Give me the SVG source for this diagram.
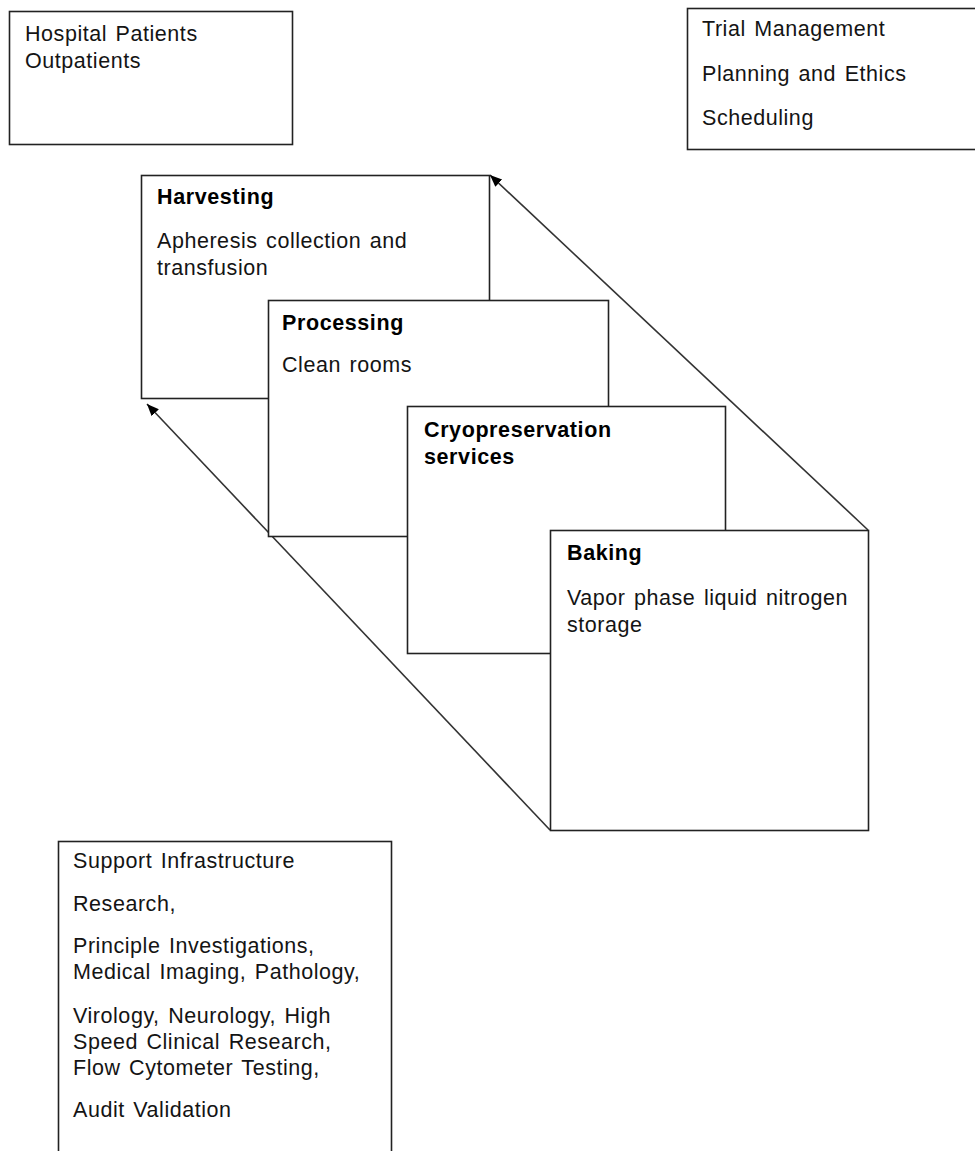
<svg xmlns="http://www.w3.org/2000/svg" width="975" height="1151" viewBox="0 0 975 1151">
<style>
.box{fill:#fff;stroke:#222;stroke-width:1.6}
.t{font-family:"Liberation Sans",Arial,sans-serif;font-size:21.5px;fill:#141414;letter-spacing:0.55px;word-spacing:2px}
.b{font-family:"Liberation Sans",Arial,sans-serif;font-size:21.5px;font-weight:bold;fill:#000;letter-spacing:0.6px}
.conn{stroke:#333;stroke-width:1.6;fill:none;marker-end:url(#ah)}
</style>
<defs>
<marker id="ah" markerUnits="userSpaceOnUse" markerWidth="14" markerHeight="12" refX="12" refY="5" orient="auto">
<path d="M0,0 L12,5 L0,10 Z" fill="#000"/>
</marker>
</defs>
<rect width="975" height="1151" fill="#fff"/>
<g id="connectors">
<line class="conn" x1="868" y1="530" x2="490" y2="175"/>
<line class="conn" x1="550" y1="830" x2="147" y2="404"/>
</g>
<g id="hospital">
<rect class="box" x="9.5" y="11.5" width="283" height="133"/>
<text class="t" x="25" y="41">Hospital Patients</text>
<text class="t" x="25" y="68">Outpatients</text>
</g>
<g id="trial">
<rect class="box" x="687.5" y="8.5" width="300" height="141"/>
<text class="t" x="702" y="36">Trial Management</text>
<text class="t" x="702" y="81">Planning and Ethics</text>
<text class="t" x="702" y="125">Scheduling</text>
</g>
<g id="harvesting">
<rect class="box" x="141.5" y="175.5" width="348" height="223"/>
<text class="b" x="157" y="204">Harvesting</text>
<text class="t" x="157" y="248">Apheresis collection and</text>
<text class="t" x="157" y="275">transfusion</text>
</g>
<g id="processing">
<rect class="box" x="268.5" y="300.5" width="340" height="236"/>
<text class="b" x="282" y="330">Processing</text>
<text class="t" x="282" y="372">Clean rooms</text>
</g>
<g id="cryo">
<rect class="box" x="407.5" y="406.5" width="318" height="247"/>
<text class="b" x="424" y="437">Cryopreservation</text>
<text class="b" x="424" y="464">services</text>
</g>
<g id="baking">
<rect class="box" x="550.5" y="530.5" width="318" height="300"/>
<text class="b" x="567" y="560">Baking</text>
<text class="t" x="567" y="605">Vapor phase liquid nitrogen</text>
<text class="t" x="567" y="632">storage</text>
</g>
<g id="support">
<rect class="box" x="58.5" y="841.5" width="333" height="330"/>
<text class="t" x="73" y="868">Support Infrastructure</text>
<text class="t" x="73" y="911">Research,</text>
<text class="t" x="73" y="953">Principle Investigations,</text>
<text class="t" x="73" y="979">Medical Imaging, Pathology,</text>
<text class="t" x="73" y="1023">Virology, Neurology, High</text>
<text class="t" x="73" y="1049">Speed Clinical Research,</text>
<text class="t" x="73" y="1075">Flow Cytometer Testing,</text>
<text class="t" x="73" y="1117">Audit Validation</text>
</g>
</svg>
